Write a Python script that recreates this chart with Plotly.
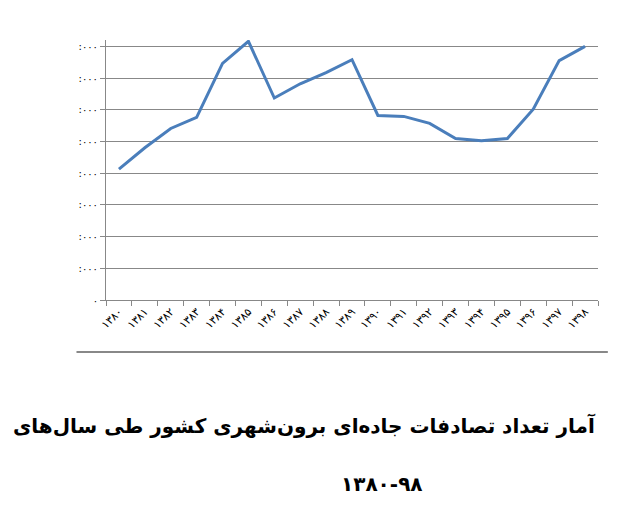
import plotly.graph_objects as go

years = ['۱۳۸۰', '۱۳۸۱', '۱۳۸۲', '۱۳۸۳', '۱۳۸۴', '۱۳۸۵', '۱۳۸۶', '۱۳۸۷', '۱۳۸۸', '۱۳۸۹',
         '۱۳۹۰', '۱۳۹۱', '۱۳۹۲', '۱۳۹۳', '۱۳۹۴', '۱۳۹۵', '۱۳۹۶', '۱۳۹۷', '۱۳۹۸']
accidents = [4130, 4800, 5410, 5760, 7460, 8160, 6370, 6820, 7170, 7580,
             5820, 5790, 5570, 5090, 5020, 5090, 6020, 7550, 8000]
y_ticks = [0, 1000, 2000, 3000, 4000, 5000, 6000, 7000, 8000]
y_labels = ['٠'] + [':٠٠٠'] * 8

fig = go.Figure()
fig.add_trace(go.Scatter(x=years, y=accidents, mode='lines',
                         line=dict(color='#4a7ebb', width=3)))

fig.update_layout(
    width=640, height=511,
    paper_bgcolor='white', plot_bgcolor='white',
    margin=dict(l=98, r=50, t=32, b=219),
    showlegend=False,
    font=dict(family='DejaVu Sans', color='black', size=9),
    xaxis=dict(type='category', range=[-0.5, 18.5], tickangle=-45, tickson='boundaries',
               ticks='outside', ticklen=5, tickcolor='#888', showline=True, linecolor='#888',
               showgrid=False, tickfont=dict(size=11, family='DejaVu Sans')),
    yaxis=dict(range=[0, 8200], tickvals=y_ticks, ticktext=y_labels, ticks='outside',
               ticklen=5, tickcolor='#888', showline=True, linecolor='#888',
               gridcolor='#888', gridwidth=1, zeroline=False, tickfont=dict(size=10)),
    shapes=[dict(type='line', xref='paper', yref='paper', x0=-0.06, x1=1.02,
                 y0=-0.2, y1=-0.2, line=dict(color='#888', width=2))],
    annotations=[
        dict(text='<b>آمار تعداد تصادفات جاده‌ای برون‌شهری کشور طی سال‌های</b>',
             xref='paper', yref='paper', x=1.0, y=-0.54, xanchor='right',
             showarrow=False, font=dict(size=20, family='DejaVu Sans')),
        dict(text='<b>۱۳۸۰-۹۸</b>', xref='paper', yref='paper', x=0.56, y=-0.76,
             xanchor='center', showarrow=False, font=dict(size=20, family='DejaVu Sans')),
    ],
)

fig.write_html("out.html")
